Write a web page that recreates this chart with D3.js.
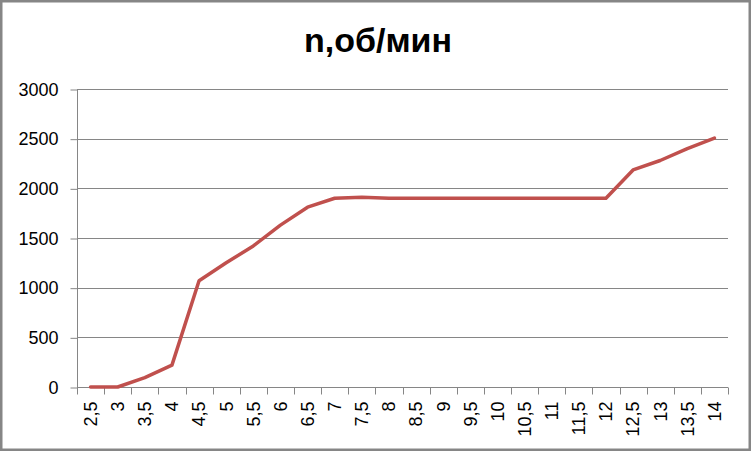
<!DOCTYPE html>
<html><head><meta charset="utf-8">
<script src="https://cdn.jsdelivr.net/npm/d3@7"></script>
<style>body{margin:0;background:#fff}svg{display:block}</style>
</head><body>
<svg id="c" width="752" height="452"></svg>
<script>
const categories = ["2,5","3","3,5","4","4,5","5","5,5","6","6,5","7","7,5","8","8,5","9","9,5","10","10,5","11","11,5","12","12,5","13","13,5","14"];
const values = [0,0,95,220,1070,1250,1420,1630,1810,1900,1910,1900,1900,1900,1900,1900,1900,1900,1900,1900,2185,2280,2400,2505];
const yTicks = [0,500,1000,1500,2000,2500,3000];
const title = "n,об/мин";

const svg = d3.select("#c");
const font = "'Liberation Sans', Arial, sans-serif";
const L = 77, R = 728, T = 89, B = 387;
svg.append("rect").attr("x",1.25).attr("y",1.25).attr("width",748.5).attr("height",448.5)
  .attr("fill","#fff").attr("stroke","#868686").attr("stroke-width",2.5);

const x = d3.scaleBand().domain(categories).range([L,R]);
const y = d3.scaleLinear().domain([0,3000]).range([B,T]);

// gridlines
svg.append("g").selectAll("line").data(yTicks.filter(d=>d>0)).join("line")
  .attr("x1",L).attr("x2",R).attr("y1",d=>Math.round(y(d))+0.5).attr("y2",d=>Math.round(y(d))+0.5)
  .attr("stroke","#868686").attr("stroke-width",1);

// y axis
const ya = svg.append("g").attr("transform",`translate(${L+0.5},0.5)`)
  .call(d3.axisLeft(y).tickValues(yTicks).tickSize(7).tickPadding(12).tickFormat(d3.format("d")));
ya.select(".domain").attr("stroke","#868686").attr("d",`M0,${T-0.5}V${B-0.5}`);
ya.selectAll(".tick line").attr("stroke","#868686");
ya.selectAll("text").attr("font-family",font).attr("font-size",18).attr("fill","#000");

// x axis
const xa = svg.append("g").attr("transform",`translate(0,${B+0.5})`)
  .call(d3.axisBottom(x).tickSize(0).tickPadding(0));
xa.select(".domain").attr("stroke","#868686").attr("d",`M${L},0H${R}`);
xa.selectAll(".tick line").remove();
const bounds = categories.map(c=>x(c)).concat([R]);
xa.selectAll("line.b").data(bounds).join("line").attr("class","b")
  .attr("x1",d=>Math.round(d)+0.5).attr("x2",d=>Math.round(d)+0.5).attr("y1",0).attr("y2",7)
  .attr("stroke","#868686");
xa.selectAll(".tick text")
  .attr("font-family",font).attr("font-size",18).attr("fill","#000")
  .attr("transform","rotate(-90)").attr("text-anchor","end")
  .attr("x",-14).attr("y",0).attr("dy","0.35em");

// line
const line = d3.line().x((d,i)=>x(categories[i])+x.bandwidth()/2).y(d=>y(d));
svg.append("path").datum(values).attr("d",line).attr("fill","none")
  .attr("stroke","#C0504D").attr("stroke-width",3.5).attr("stroke-linejoin","round").attr("stroke-linecap","round");

// title
svg.append("text").attr("x",378).attr("y",52).attr("text-anchor","middle")
  .attr("font-family",font).attr("font-weight","bold").attr("font-size",34).attr("fill","#000").text(title);
</script>
</body></html>
